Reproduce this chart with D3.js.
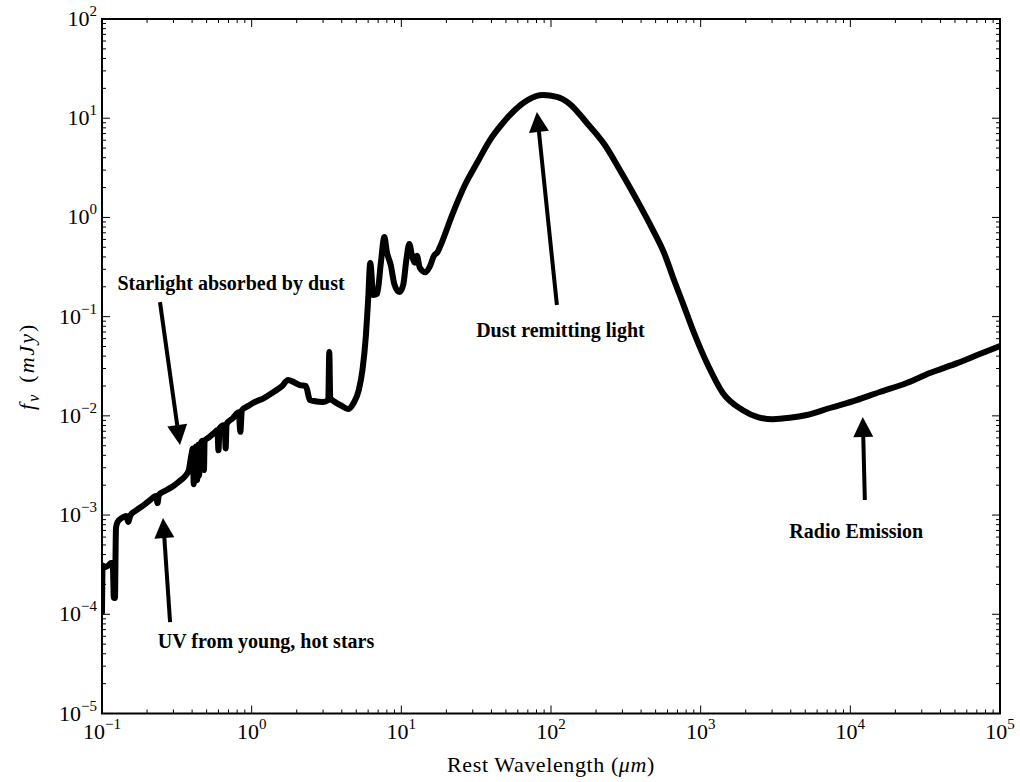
<!DOCTYPE html>
<html>
<head>
<meta charset="utf-8">
<script src="https://cdn.jsdelivr.net/npm/d3@7"></script>
<style>
  body { margin: 0; background: #fff; }
  svg { display: block; }
  .tick-label { font-family: "Liberation Serif", "DejaVu Serif", serif; font-size: 22px; fill: #000; }
  .note { font-family: "Liberation Serif", serif; font-weight: bold; font-size: 20px; fill: #000; }
</style>
</head>
<body>
<div id="chart"></div>
<script>
// rest wavelength (micron) and flux density (mJy)
var wavelength = [
  0.100, 0.101, 0.104, 0.110, 0.115, 0.118, 0.120, 0.122, 0.124, 0.127,
  0.135, 0.145, 0.150, 0.155, 0.170, 0.190, 0.210, 0.230, 0.235, 0.240,
  0.270, 0.300, 0.330, 0.360, 0.380, 0.395, 0.405, 0.410, 0.415, 0.420,
  0.425, 0.432, 0.440, 0.445, 0.455, 0.470, 0.480, 0.485, 0.52, 0.56,
  0.59, 0.60, 0.61, 0.66, 0.67, 0.68, 0.75, 0.82, 0.84, 0.86,
  0.95, 1.05, 1.2, 1.4, 1.6, 1.75, 1.9, 2.1, 2.3, 2.45,
  2.6, 3.0, 3.25, 3.3, 3.35, 3.6, 4.0, 4.4, 4.8, 5.2,
  5.5, 5.8, 6.0, 6.2, 6.5, 6.9, 7.3, 7.7, 8.0, 8.5,
  9.0, 9.7, 10.3, 10.8, 11.3, 11.8, 12.3, 12.7, 13.3, 14.5,
  15.5, 16.5, 17.5, 18.1, 22.1, 26.6, 32.0, 39.1, 47.7, 57.4,
  70.2, 88.3, 109.4, 133.7, 173.7, 229, 288.5, 375, 480, 577,
  652, 760, 887, 1117, 1406, 1914, 2410, 3034, 3942, 5120,
  7300, 11000, 15740, 23800, 33960, 51700, 73300, 100000
];
var flux = [
  1.05e-4, 3.1e-4, 2.98e-4, 3.1e-4, 3.28e-4, 3.28e-4, 1.46e-4, 1.46e-4, 7.4e-4, 8.5e-4,
  9.3e-4, 9.8e-4, 8.5e-4, 1.0e-3, 1.12e-3, 1.26e-3, 1.42e-3, 1.56e-3, 1.32e-3, 1.6e-3,
  1.79e-3, 1.96e-3, 2.2e-3, 2.47e-3, 2.84e-3, 4.0e-3, 4.7e-3, 2.05e-3, 4.7e-3, 2.2e-3,
  4.9e-3, 2.25e-3, 5.1e-3, 2.5e-3, 5.2e-3, 5.6e-3, 2.84e-3, 5.6e-3, 6.1e-3, 6.7e-3,
  7.2e-3, 4.5e-3, 7.5e-3, 8.1e-3, 4.7e-3, 8.3e-3, 9.5e-3, 1.09e-2, 6.9e-3, 1.14e-2,
  1.26e-2, 1.38e-2, 1.5e-2, 1.74e-2, 2.0e-2, 2.3e-2, 2.2e-2, 2.04e-2, 2.0e-2, 1.44e-2,
  1.41e-2, 1.38e-2, 1.44e-2, 4.4e-2, 1.51e-2, 1.38e-2, 1.26e-2, 1.17e-2, 1.35e-2, 1.82e-2,
  2.9e-2, 6.5e-2, 0.147, 0.347, 0.165, 0.17, 0.35, 0.634, 0.45, 0.33,
  0.21, 0.177, 0.21, 0.372, 0.54, 0.41, 0.35, 0.41, 0.31, 0.28,
  0.32, 0.41, 0.45, 0.503, 1.106, 2.12, 3.53, 6.03, 8.95, 12.1,
  15.3, 17.1, 16.4, 13.9, 8.95, 5.37, 3.01, 1.50, 0.746, 0.418,
  0.251, 0.137, 0.0733, 0.0325, 0.0170, 0.0114, 0.00972, 0.00925, 0.00955, 0.0102,
  0.0120, 0.0144, 0.0174, 0.0214, 0.0270, 0.0340, 0.0420, 0.0505
];

// annotations: label, label anchor (wavelength, flux), arrow tail, arrow tip
var noteText = ["Starlight absorbed by dust", "UV from young, hot stars", "Dust remitting light", "Radio Emission"];
var noteAt = [[0.728, 0.185], [1.246, 4.56e-5], [115.6, 0.0622], [10960, 5.86e-4]];
var arrowFrom = [[0.244, 0.140], [0.285, 8.34e-5], [109.5, 0.131], [12500, 1.42e-3]];
var arrowTo = [[0.332, 5.08e-3], [0.2556, 9.33e-4], [80.5, 11.55], [12110, 9.72e-3]];

var xExp = [-1, 0, 1, 2, 3, 4, 5];
var yExp = [-5, -4, -3, -2, -1, 0, 1, 2];

var W = 1020, H = 782;
var pL = 102, pR = 1000, pT = 19, pB = 713.5;

var svg = d3.select("#chart").append("svg").attr("width", W).attr("height", H);

var x = d3.scaleLog().domain([0.1, 1e5]).range([pL, pR]);
var y = d3.scaleLog().domain([1e-5, 1e2]).range([pB, pT]);

svg.append("clipPath").attr("id", "clip")
  .append("rect").attr("x", pL).attr("y", pT)
  .attr("width", pR - pL).attr("height", pB - pT);

// the spectrum
var pts = wavelength.map(function (w, i) { return [w, flux[i]]; });
var line = d3.line()
  .x(function (d) { return x(d[0]); })
  .y(function (d) { return y(d[1]); })
  .curve(d3.curveMonotoneX);

svg.append("path")
  .datum(pts)
  .attr("clip-path", "url(#clip)")
  .attr("d", line)
  .attr("fill", "none")
  .attr("stroke", "#000")
  .attr("stroke-width", 6)
  .attr("stroke-linejoin", "round")
  .attr("stroke-linecap", "round");

// ticks on all four sides, pointing in
var ticks = svg.append("g").attr("stroke", "#000").attr("stroke-width", 1);
function minorMajor(lo, hi) {
  var out = [];
  for (var e = lo; e < hi; e++) {
    for (var m = 1; m < 10; m++) out.push({ v: m * Math.pow(10, e), major: m === 1 });
  }
  out.push({ v: Math.pow(10, hi), major: true });
  return out;
}
minorMajor(-1, 5).forEach(function (t) {
  var px = x(t.v), len = t.major ? 8 : 4;
  ticks.append("line").attr("x1", px).attr("x2", px).attr("y1", pB).attr("y2", pB - len);
  ticks.append("line").attr("x1", px).attr("x2", px).attr("y1", pT).attr("y2", pT + len);
});
minorMajor(-5, 2).forEach(function (t) {
  var py = y(t.v), len = t.major ? 8 : 4;
  ticks.append("line").attr("y1", py).attr("y2", py).attr("x1", pL).attr("x2", pL + len);
  ticks.append("line").attr("y1", py).attr("y2", py).attr("x1", pR).attr("x2", pR - len);
});

// frame
svg.append("rect")
  .attr("x", pL).attr("y", pT)
  .attr("width", pR - pL).attr("height", pB - pT)
  .attr("fill", "none").attr("stroke", "#000").attr("stroke-width", 2);

function expLabel(sel, e) {
  sel.append("tspan").text("10");
  sel.append("tspan").attr("dy", -10).attr("font-size", "15px")
    .text(e < 0 ? "\u2212" + (-e) : String(e));
}

svg.selectAll(".xlab").data(xExp).enter()
  .append("text").attr("class", "tick-label xlab")
  .attr("x", function (e) { return x(Math.pow(10, e)); })
  .attr("y", pB + 25)
  .attr("text-anchor", "middle")
  .each(function (e) { expLabel(d3.select(this), e); });

svg.selectAll(".ylab").data(yExp).enter()
  .append("text").attr("class", "tick-label ylab")
  .attr("x", pL - 5)
  .attr("y", function (e) { return y(Math.pow(10, e)) + 7; })
  .attr("text-anchor", "end")
  .each(function (e) { expLabel(d3.select(this), e); });

// axis titles
var xt = svg.append("text").attr("class", "tick-label")
  .attr("x", (pL + pR) / 2).attr("y", 772).attr("text-anchor", "middle")
  .attr("letter-spacing", "0.6px");
xt.append("tspan").text("Rest Wavelength (");
xt.append("tspan").attr("font-style", "italic").text("\u03bcm");
xt.append("tspan").text(")");

var yt = svg.append("text").attr("class", "tick-label")
  .attr("transform", "translate(34," + ((pT + pB) / 2) + ") rotate(-90)")
  .attr("text-anchor", "middle")
  .attr("font-size", "24px")
  .attr("letter-spacing", "2px");
yt.append("tspan").attr("font-style", "italic").text("f");
yt.append("tspan").attr("font-style", "italic").attr("font-size", "16px").attr("dy", 5).text("\u03bd");
yt.append("tspan").attr("dy", -5).attr("dx", 10).text("(");
yt.append("tspan").attr("font-style", "italic").text("mJy");
yt.append("tspan").text(")");

// annotations with arrows
var notes = svg.append("g");
noteText.forEach(function (t, i) {
  notes.append("text").attr("class", "note")
    .attr("x", x(noteAt[i][0])).attr("y", y(noteAt[i][1]))
    .attr("text-anchor", "middle")
    .text(t);

  var x0 = x(arrowFrom[i][0]), y0 = y(arrowFrom[i][1]);
  var x1 = x(arrowTo[i][0]), y1 = y(arrowTo[i][1]);
  var dx = x1 - x0, dy = y1 - y0, len = Math.sqrt(dx * dx + dy * dy);
  var ux = dx / len, uy = dy / len, headL = 20, headW = 10;
  var bx = x1 - ux * headL, by = y1 - uy * headL;
  notes.append("line")
    .attr("x1", x0).attr("y1", y0).attr("x2", bx + ux * 2).attr("y2", by + uy * 2)
    .attr("stroke", "#000").attr("stroke-width", 4);
  notes.append("path")
    .attr("d", "M" + x1 + "," + y1 +
      "L" + (bx - uy * headW) + "," + (by + ux * headW) +
      "L" + (bx + uy * headW) + "," + (by - ux * headW) + "Z")
    .attr("fill", "#000");
});
</script>
</body>
</html>
